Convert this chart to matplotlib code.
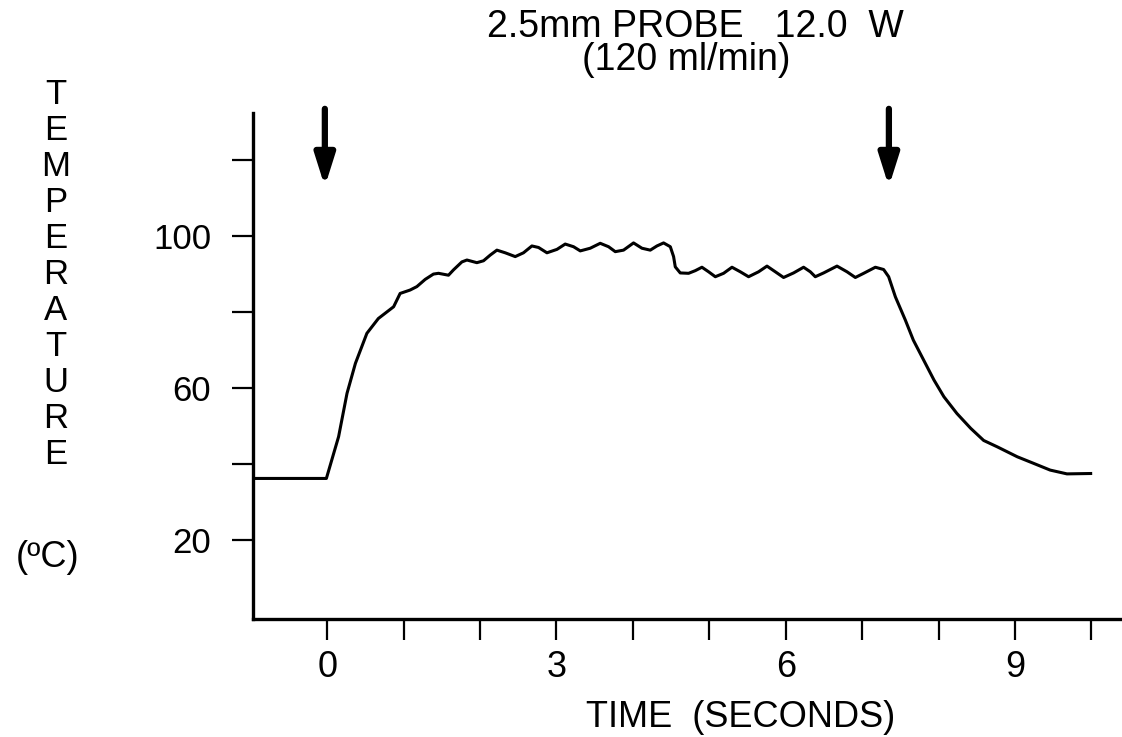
import matplotlib
matplotlib.use("Agg")
import matplotlib.pyplot as plt

# Temperaturverlauf
time_s = [-0.97, -0.01, 0.15, 0.26, 0.37, 0.52, 0.67, 0.87,
          0.955, 1.086, 1.174, 1.283, 1.391, 1.457, 1.588, 1.653, 1.763, 1.829, 1.959,
          2.046, 2.134, 2.221, 2.330, 2.461, 2.569, 2.679, 2.766, 2.876, 3.007, 3.115,
          3.224, 3.312, 3.442, 3.573, 3.682, 3.770, 3.878, 4.009, 4.119, 4.228, 4.315,
          4.402, 4.490, 4.533, 4.555, 4.620, 4.729, 4.817, 4.904, 4.991, 5.079, 5.187,
          5.297, 5.406, 5.514, 5.645, 5.755, 5.864, 5.972, 6.103, 6.234, 6.322, 6.387,
          6.496, 6.671, 6.802, 6.911, 7.020, 7.173, 7.281, 7.347, 7.435,
          7.565, 7.67, 7.94, 8.07, 8.24, 8.42, 8.59, 8.77, 9.03, 9.24, 9.46, 9.68, 9.99]
temp_c = [36.2, 36.2, 47.2, 58.6, 66.5, 74.4, 78.3, 81.4,
          84.9, 85.8, 86.7, 88.6, 90.0, 90.2, 89.7, 91.1, 93.2, 93.7, 93.0,
          93.5, 95.0, 96.3, 95.6, 94.6, 95.6, 97.4, 97.0, 95.6, 96.5, 97.9,
          97.2, 96.1, 96.8, 98.1, 97.2, 95.9, 96.3, 98.2, 96.8, 96.3, 97.4,
          98.2, 97.2, 94.6, 91.9, 90.3, 90.2, 90.9, 91.8, 90.6, 89.3, 90.2,
          91.8, 90.6, 89.3, 90.6, 92.1, 90.6, 89.1, 90.3, 91.8, 90.6, 89.3,
          90.3, 92.1, 90.6, 89.1, 90.2, 91.8, 91.2, 89.3, 84.0,
          77.9, 72.6, 62.1, 57.7, 53.3, 49.4, 46.2, 44.5, 41.9, 40.2, 38.4, 37.4, 37.5]

arrow_times = [-0.03, 7.35]   # Leistung ein / aus
x_ticks = list(range(0, 11))
x_labels = ['0', '', '', '3', '', '', '6', '', '', '9', '']
y_ticks = [20, 40, 60, 80, 100, 120]
y_labels = ['20', '', '60', '', '100', '']

plt.rcParams['font.family'] = ['Liberation Sans', 'DejaVu Sans']

fig = plt.figure(figsize=(11.22, 7.37), dpi=100)
ax = fig.add_axes((253/1122, 1-619/737, 1-253/1122, 506/737))

ax.plot(time_s, temp_c, color='black', lw=2.2, solid_joinstyle='round')

ax.set_xlim(-0.97, 10.4)
ax.set_ylim(-0.8, 132.4)

ax.spines['top'].set_visible(False)
ax.spines['right'].set_visible(False)
ax.spines['left'].set_linewidth(2.4)
ax.spines['bottom'].set_linewidth(2.4)

ax.set_xticks(x_ticks)
ax.set_xticklabels(x_labels, fontsize=26)
ax.set_yticks(y_ticks)
ax.set_yticklabels(y_labels, fontsize=25)
ax.tick_params(axis='both', direction='out', length=15, width=1.6)
ax.tick_params(axis='x', pad=7)
ax.tick_params(axis='y', pad=15)

# Pfeile (Ein / Aus)
for t in arrow_times:
    ax.annotate('', xy=(t, 113.0), xytext=(t, 133.5),
                arrowprops=dict(arrowstyle='-|>,head_length=0.95,head_width=0.3',
                                mutation_scale=20, lw=4.5, color='black',
                                shrinkA=0, shrinkB=0),
                annotation_clip=False)

# Titel
fig.text(0.620, 0.963, '2.5mm PROBE   12.0  W', ha='center', va='center', fontsize=27)
fig.text(0.612, 0.919, '(120 ml/min)', ha='center', va='center', fontsize=27)

# Achsenbeschriftungen
fig.text(0.660, 0.026, 'TIME  (SECONDS)', ha='center', va='center', fontsize=26)
for i, ch in enumerate('TEMPERATURE'):
    fig.text(56/1122, 1 - (95 + 36*i)/737, ch, ha='center', va='center', fontsize=25)
fig.text(0.042, 0.244, '(ºC)', ha='center', va='center', fontsize=26)

fig.savefig('out.png', dpi=100)
